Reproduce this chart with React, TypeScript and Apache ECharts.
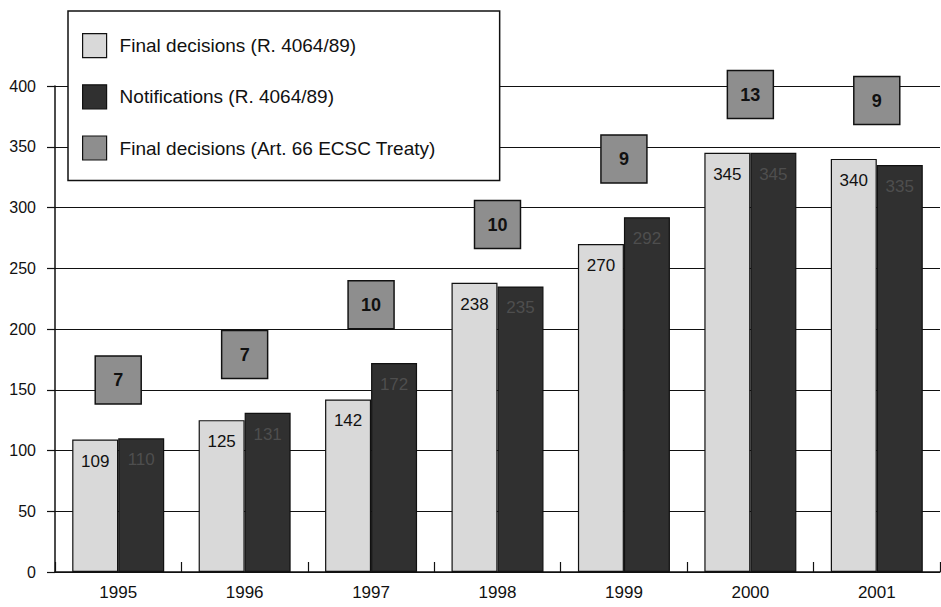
import React, { useEffect, useRef } from "react";
import * as echarts from "echarts";

// Merger control statistics, 1995–2001
const years = ["1995", "1996", "1997", "1998", "1999", "2000", "2001"];
const finalDecisions = [109, 125, 142, 238, 270, 345, 340];
const notifications = [110, 131, 172, 235, 292, 345, 335];
const ecscDecisions = [7, 7, 10, 10, 9, 13, 9];
const yTicks = { min: 0, max: 400, step: 50 };

const FONT = "Liberation Sans, Arial, Helvetica, sans-serif";
const LIGHT = "#d9d9d9";
const DARK = "#303030";
const MID = "#8e8e8e";
const INK = "#111111";

// The ECSC boxes float a fixed distance above the taller bar of each year
const BOX_LIFT = 48;

export default function App() {
  const ref = useRef<HTMLDivElement>(null);

  useEffect(() => {
    document.body.style.margin = "0";
    if (!ref.current) return;
    const chart = echarts.init(ref.current, undefined, { renderer: "svg" });

    const boxData = years.map((y, i) => [
      y,
      Math.max(finalDecisions[i], notifications[i]) + BOX_LIFT,
      ecscDecisions[i],
    ]);

    chart.setOption({
      animation: false,
      backgroundColor: "#ffffff",
      textStyle: { fontFamily: FONT },
      grid: { left: 55, right: 1, top: 86, bottom: 35 },
      legend: {
        orient: "vertical",
        left: 68,
        top: 11,
        padding: [22, 64, 20, 14],
        itemGap: 26,
        itemWidth: 24,
        itemHeight: 24,
        icon: "rect",
        backgroundColor: "#ffffff",
        borderColor: INK,
        borderWidth: 1.5,
        borderRadius: 0,
        itemStyle: { borderColor: INK, borderWidth: 1.2 },
        textStyle: {
          fontFamily: FONT,
          fontSize: 19,
          color: INK,
          padding: [0, 0, 0, 8],
        },
        data: [
          "Final decisions (R. 4064/89)",
          "Notifications (R. 4064/89)",
          "Final decisions (Art. 66 ECSC Treaty)",
        ],
      },
      xAxis: {
        type: "category",
        data: years,
        boundaryGap: true,
        axisLine: { show: true, lineStyle: { color: INK, width: 1.5 } },
        axisTick: {
          show: true,
          inside: true,
          length: 10,
          alignWithLabel: false,
          lineStyle: { color: INK, width: 1.2 },
        },
        axisLabel: {
          color: INK,
          fontSize: 17,
          fontFamily: FONT,
          margin: 12,
        },
        splitLine: { show: false },
      },
      yAxis: {
        type: "value",
        min: yTicks.min,
        max: yTicks.max,
        interval: yTicks.step,
        axisLine: { show: true, lineStyle: { color: INK, width: 1.5 } },
        axisTick: {
          show: true,
          inside: false,
          length: 8,
          lineStyle: { color: INK, width: 1.2 },
        },
        axisLabel: {
          color: INK,
          fontSize: 16,
          fontFamily: FONT,
          margin: 19,
        },
        splitLine: { show: true, lineStyle: { color: INK, width: 1.2 } },
      },
      series: [
        {
          name: "Final decisions (R. 4064/89)",
          type: "bar",
          data: finalDecisions,
          barWidth: 46,
          barGap: "0%",
          itemStyle: { color: LIGHT, borderColor: INK, borderWidth: 1.2 },
          label: {
            show: true,
            position: "insideTop",
            distance: 13,
            fontSize: 17,
            fontFamily: FONT,
            color: INK,
          },
        },
        {
          name: "Notifications (R. 4064/89)",
          type: "bar",
          data: notifications,
          barWidth: 46,
          barGap: "0%",
          itemStyle: { color: DARK, borderColor: INK, borderWidth: 1.2 },
          label: {
            show: true,
            position: "insideTop",
            distance: 13,
            fontSize: 17,
            fontFamily: FONT,
            color: "#4e4e4e",
          },
        },
        {
          name: "Final decisions (Art. 66 ECSC Treaty)",
          type: "scatter",
          data: boxData,
          symbol: "rect",
          symbolSize: [46, 48],
          z: 5,
          itemStyle: {
            color: MID,
            borderColor: INK,
            borderWidth: 1.5,
            opacity: 1,
          },
          label: {
            show: true,
            position: "inside",
            fontSize: 18,
            fontWeight: "bold",
            fontFamily: FONT,
            color: INK,
            formatter: (p: any) => String(p.value[2]),
          },
        },
      ],
    });

    return () => chart.dispose();
  }, []);

  return <div ref={ref} style={{ width: 941, height: 607 }} />;
}
